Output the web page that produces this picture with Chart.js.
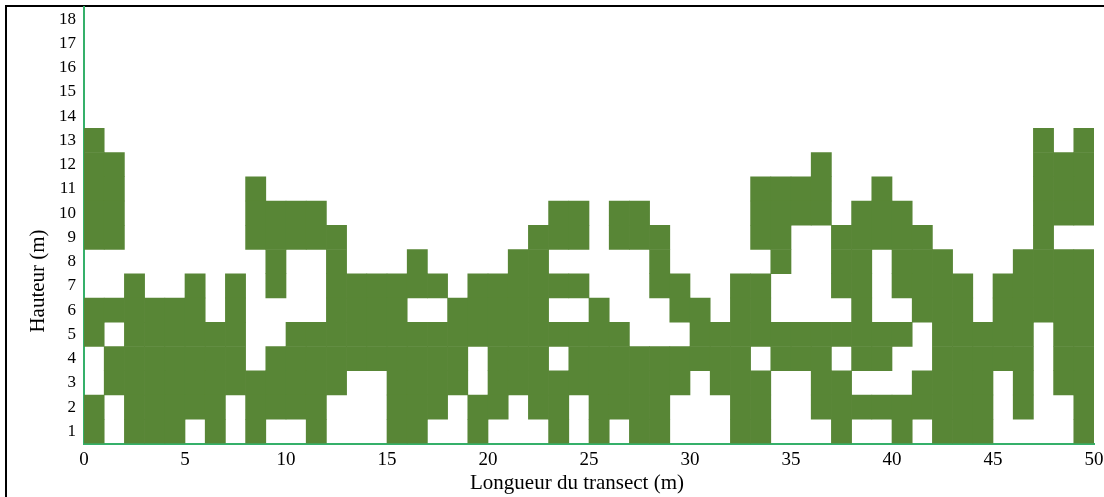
<!DOCTYPE html>
<html>
<head>
<meta charset="utf-8">
<script src="https://cdn.jsdelivr.net/npm/chart.js@4.4.1/dist/chart.umd.min.js"></script>
<style>
  html, body { margin: 0; padding: 0; background: #fff; overflow: hidden; }
  #cadre { position: absolute; left: 5px; top: 5px; width: 1200px; height: 600px; border: 2px solid #000; }
  #graph { position: absolute; left: 0; top: 0; }
</style>
</head>
<body>
<div id="cadre"></div>
<canvas id="graph" width="1104" height="497"></canvas>
<script>
// positions along the transect (m), one cell = 1 m x 1 m
const metres = Array.from({ length: 50 }, (_, i) => i);

// cells with vegetation, per height band (h1 = 0-1 m, h2 = 1-2 m, ...)
const h1 = [0,2,3,4,6,8,11,15,16,19,23,25,27,28,32,33,37,40,42,43,44,49];
const h2 = [0,2,3,4,5,6,8,9,10,11,15,16,17,19,20,22,23,25,26,27,28,32,33,36,37,38,39,40,41,42,43,44,46,49];
const h3 = [1,2,3,4,5,6,7,8,9,10,11,12,15,16,17,18,20,21,22,23,24,25,26,27,28,29,31,32,33,36,37,41,42,43,44,46,48,49];
const h4 = [1,2,3,4,5,6,7,9,10,11,12,13,14,15,16,17,18,20,21,22,24,25,26,27,28,29,30,31,32,34,35,36,38,39,42,43,44,45,46,48,49];
const h5 = [0,2,3,4,5,6,7,10,11,12,13,14,15,16,17,18,19,20,21,22,23,24,25,26,30,31,32,33,34,35,36,37,38,39,40,42,43,44,45,46,48,49];
const h6 = [0,1,2,3,4,5,7,12,13,14,15,18,19,20,21,22,25,29,30,32,33,38,41,42,43,45,46,47,48,49];
const h7 = [2,5,7,9,12,13,14,15,16,17,19,20,21,22,23,24,28,29,32,33,37,38,40,41,42,43,45,46,47,48,49];
const h8 = [9,12,16,21,22,28,34,37,38,40,41,42,46,47,48,49];
const h9 = [0,1,8,9,10,11,12,22,23,24,26,27,28,33,34,37,38,39,40,41,47];
const h10 = [0,1,8,9,10,11,23,24,26,27,33,34,35,36,38,39,40,47,48,49];
const h11 = [0,1,8,33,34,35,36,39,47,48,49];
const h12 = [0,1,36,47,48,49];
const h13 = [0,47,49];

const hauteurTicks = ['1','2','3','4','5','6','7','8','9','10','11','12','13','14','15','16','17','18'];
const longueurTicks = [0,5,10,15,20,25,30,35,40,45,50];

const vert = '#588636';
const axe = '#35b06a';
const police = "'Liberation Serif', 'Times New Roman', serif";

const bandes = [h1,h2,h3,h4,h5,h6,h7,h8,h9,h10,h11,h12,h13];

const datasets = bandes.map((cells, i) => ({
  data: metres.map(m => cells.includes(m) ? [i, i + 1] : null),
  backgroundColor: vert,
  borderWidth: 0,
  grouped: false,
  barPercentage: 1,
  categoryPercentage: 1,
  xAxisID: 'x',
  yAxisID: 'y'
}));

// axis titles drawn by hand, the original ones sit off-centre
const titres = {
  id: 'titres',
  afterDraw(chart) {
    const ctx = chart.ctx;
    ctx.save();
    ctx.fillStyle = '#000';
    ctx.font = '21px ' + police;
    ctx.textAlign = 'center';
    ctx.textBaseline = 'alphabetic';
    ctx.fillText('Longueur du transect (m)', 577, 489);
    ctx.translate(44, 281);
    ctx.rotate(-Math.PI / 2);
    ctx.fillText('Hauteur (m)', 0, 0);
    ctx.restore();
  }
};

new Chart(document.getElementById('graph'), {
  type: 'bar',
  data: { labels: metres, datasets: datasets },
  options: {
    responsive: false,
    animation: false,
    layout: { autoPadding: false, padding: { top: 7, right: 10, left: 0, bottom: 0 } },
    plugins: { legend: { display: false }, tooltip: { enabled: false } },
    scales: {
      x: { type: 'category', display: false, offset: true },
      x2: {
        type: 'linear',
        position: 'bottom',
        offset: false,
        min: 0,
        max: 50,
        afterBuildTicks: s => { s.ticks = longueurTicks.map(v => ({ value: v })); },
        afterFit: s => { s.height = 53.5; s.paddingLeft = 0; s.paddingRight = 0; },
        grid: { display: false, drawTicks: false, offset: false },
        border: { display: true, color: axe, width: 2 },
        ticks: { padding: 5, color: '#000', maxRotation: 0, font: { family: police, size: 19 } }
      },
      y: {
        min: 0,
        max: 18,
        afterBuildTicks: s => { s.ticks = hauteurTicks.map((t, i) => ({ value: i + 0.5 })); },
        afterFit: s => { s.width = 84; s.paddingTop = 0; s.paddingBottom = 0; },
        grid: { display: false, drawTicks: false },
        border: { display: true, color: axe, width: 2 },
        ticks: {
          padding: 8,
          color: '#000',
          font: { family: police, size: 17 },
          callback: (v, i) => hauteurTicks[i]
        }
      }
    }
  },
  plugins: [titres]
});
</script>
</body>
</html>
